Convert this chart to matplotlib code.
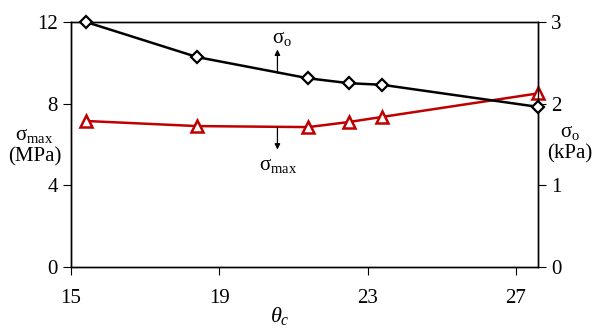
import matplotlib.pyplot as plt

plt.rcParams['font.family'] = ['Liberation Serif', 'DejaVu Serif']
plt.rcParams['mathtext.fontset'] = 'custom'
plt.rcParams['mathtext.rm'] = 'Liberation Serif'
plt.rcParams['mathtext.it'] = 'Liberation Serif:italic'

# data
theta_c = [15.4, 18.4, 21.4, 22.5, 23.4, 27.6]
sigma_max = [7.15, 6.9, 6.85, 7.1, 7.35, 8.5]    # MPa, left axis
sigma_o = [3.0, 2.57, 2.31, 2.25, 2.23, 1.96]    # kPa, right axis

x_ticks = [15, 19, 23, 27]
left_ticks = [0, 4, 8, 12]
right_ticks = [0, 1, 2, 3]

fig = plt.figure(figsize=(5.98, 3.29), dpi=100)
ax = fig.add_axes([0.1187, 0.1884, 0.781, 0.745])
ax2 = ax.twinx()

ax.plot(theta_c, sigma_max, color='#C00000', lw=1.8, marker='^', ms=8,
        mfc='white', mec='#C00000', mew=1.8, clip_on=False, zorder=3)
ax2.plot(theta_c, sigma_o, color='black', lw=1.8, marker='D', ms=6.5,
         mfc='white', mec='black', mew=1.6, clip_on=False, zorder=3)

ax.set_xlim(15, 27.6)
ax.set_ylim(0, 12)
ax2.set_ylim(0, 3)
ax.set_xticks(x_ticks)
ax.set_yticks(left_ticks)
ax2.set_yticks(right_ticks)

for a in (ax, ax2):
    a.tick_params(labelsize=15, length=6, width=0.8, direction='out')
    for s in a.spines.values():
        s.set_linewidth(1.0)
ax.tick_params(axis='x', pad=10)

fig.text(0.468, 0.005, r'$\theta_c$', fontsize=16, ha='center', va='bottom')
fig.text(0.058, 0.555, r'σ$_{\rm max}$' + '\n(MPa)', ha='center', va='center',
         fontsize=15, linespacing=1.2)
fig.text(0.953, 0.565, r'σ$_{\rm o}$' + '\n(kPa)', ha='center', va='center',
         fontsize=15, linespacing=1.2)

arrow = dict(arrowstyle='-|>', color='black', lw=0.9, mutation_scale=8,
             shrinkA=0, shrinkB=0)
ax.annotate('', xy=(20.57, 10.65), xytext=(20.57, 9.5), arrowprops=arrow)
ax.text(20.7, 10.7, r'σ$_{\rm o}$', fontsize=15, ha='center', va='bottom')
ax.annotate('', xy=(20.57, 5.75), xytext=(20.57, 6.85), arrowprops=arrow)
ax.text(20.6, 5.45, r'σ$_{\rm max}$', fontsize=15, ha='center', va='top')

fig.savefig('out.png', dpi=100)
